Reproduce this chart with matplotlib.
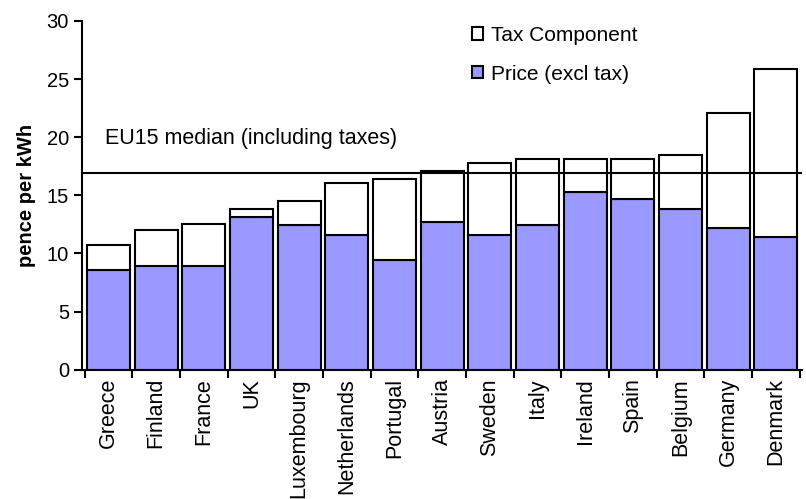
import numpy as np
import matplotlib
matplotlib.use("Agg")
import matplotlib.pyplot as plt

# electricity prices, pence per kWh
countries = ["Greece", "Finland", "France", "UK", "Luxembourg", "Netherlands",
             "Portugal", "Austria", "Sweden", "Italy", "Ireland", "Spain",
             "Belgium", "Germany", "Denmark"]
price_excl_tax = [8.6, 8.9, 8.9, 13.15, 12.45, 11.6, 9.4, 12.7, 11.6, 12.45,
                  15.25, 14.7, 13.85, 12.15, 11.45]
total_price = [10.75, 12.0, 12.5, 13.8, 14.55, 16.1, 16.4, 17.1, 17.8, 18.15,
               18.15, 18.15, 18.5, 22.05, 25.85]
eu15_median = 16.9

tax = [t - p for t, p in zip(total_price, price_excl_tax)]

plt.rcParams['font.family'] = ['Liberation Sans', 'DejaVu Sans']

fig = plt.figure(figsize=(8.06, 4.99), dpi=100)
ax = fig.add_axes([0.102, 0.259, 0.893, 0.699])

x = np.arange(len(countries))
b_price = ax.bar(x, price_excl_tax, width=0.9, color="#9999FF",
                 edgecolor="black", linewidth=1.5, label="Price (excl tax)")
b_tax = ax.bar(x, tax, width=0.9, bottom=price_excl_tax, color="white",
               edgecolor="black", linewidth=1.5, label="Tax Component")

ax.axhline(eu15_median, color="black", linewidth=1.5)
ax.text(-0.07, 19.9, "EU15 median (including taxes)", fontsize=15.5,
        va="center", ha="left")

ax.set_xlim(-0.55, 14.55)
ax.set_ylim(0, 30)
ax.set_yticks(range(0, 31, 5))
ax.tick_params(axis="y", labelsize=14.5, direction="out", length=6, width=1.5)

# ticks between categories, labels at the centres
ax.set_xticks(np.arange(-0.5, len(countries), 1.0))
ax.set_xticklabels([])
ax.tick_params(axis="x", which="major", direction="out", length=6, width=1.5)
ax.set_xticks(x, minor=True)
ax.set_xticklabels(countries, minor=True, rotation=90, fontsize=15.5)
ax.tick_params(axis="x", which="minor", length=0, pad=6)

ax.set_ylabel("pence per kWh", fontsize=14.5, fontweight="bold", labelpad=8)

for side in ["top", "right"]:
    ax.spines[side].set_visible(False)
for side in ["left", "bottom"]:
    ax.spines[side].set_linewidth(1.5)

ax.legend([b_tax, b_price], ["Tax Component", "Price (excl tax)"],
          loc="upper left", bbox_to_anchor=(0.515, 1.04), frameon=False,
          fontsize=15, handlelength=0.55, handleheight=0.55,
          handletextpad=0.4, labelspacing=0.95)

fig.savefig("out.png", dpi=100)
